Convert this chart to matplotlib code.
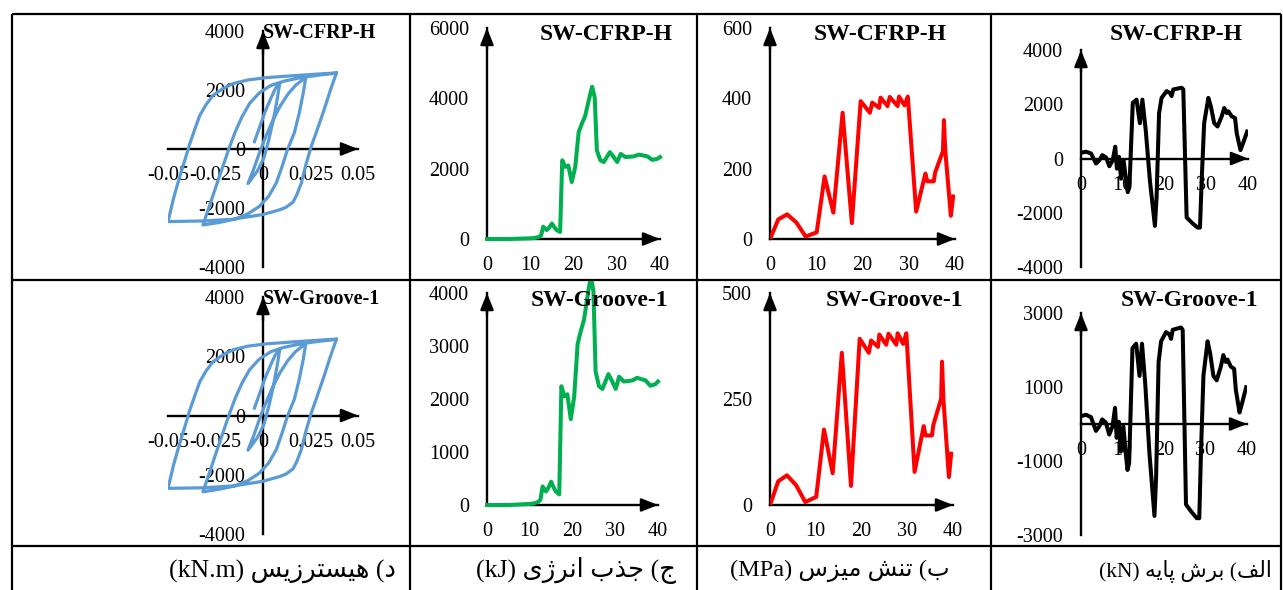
import matplotlib
matplotlib.use("Agg")
import matplotlib.pyplot as plt
from matplotlib.transforms import Bbox, TransformedBbox

plt.rcParams['font.family'] = ['Liberation Serif', 'DejaVu Sans']

# ---------------- data ----------------
# hysteresis: drift ratio vs. moment (kN.m)
drift = [
    -0.0045, -0.002, 0.001, 0.004, 0.0065, 0.0088,
    0.0075, 0.0055, 0.003, 0.0005, -0.003, -0.0079,
    -0.005, -0.002, 0.001, 0.005, 0.009, 0.013, 0.017, 0.0205, 0.0225,
    0.0212, 0.019, 0.0165, 0.013, 0.010, 0.007, 0.003, -0.002, -0.008, -0.015, -0.023, -0.0316,
    -0.0285, -0.025, -0.0215, -0.018, -0.0145, -0.011, -0.007, -0.002, 0.004, 0.011, 0.02, 0.03, 0.0386,
    0.0355, 0.032, 0.0285, 0.0252, 0.0225, 0.0202, 0.0178, 0.0158, 0.012, 0.0088, 0.0, -0.0158, -0.0316, -0.05,
    -0.047, -0.0439, -0.041, -0.0386, -0.036, -0.0333, -0.030, -0.0263, -0.021, -0.0158, -0.008, 0.0018, 0.0193, 0.0386,
]
moment = [
    250, 700, 1250, 1700, 2050, 2230,
    1700, 1000, 300, -300, -750, -1170,
    -700, -150, 350, 950, 1450, 1850, 2150, 2330, 2430,
    1900, 1200, 550, 0, -600, -1150, -1600, -1950, -2200, -2380, -2490, -2575,
    -1990, -1320, -660, 0, 600, 1100, 1550, 1900, 2150, 2300, 2420, 2510, 2570,
    2000, 1300, 650, 50, -550, -1150, -1550, -1800, -1980, -2060, -2220, -2380, -2440, -2460,
    -1650, -950, -350, 170, 650, 1136, 1500, 1818, 2050, 2216, 2340, 2420, 2500, 2580,
]

# energy absorption (kJ)
energy_t = [0, 5, 10, 11, 12, 12.5, 13.0, 13.8, 14.4, 15.0, 15.6, 16.1, 16.9, 17.4, 18.1,
            18.8, 19.6, 20.4, 21.2, 21.9, 22.7, 23.5, 24.3, 24.9, 25.4, 26.2, 27.0, 28.4,
            29.3, 30.1, 30.9, 32.0, 34.0, 35.1, 37.1, 38.2, 39.4, 40.0]
energy = [0, 0, 20, 30, 60, 100, 350, 255, 330, 440, 330, 255, 200, 2240, 2050,
          2090, 1620, 2050, 3040, 3270, 3500, 3930, 4330, 4030, 2520, 2240, 2190, 2470,
          2330, 2190, 2420, 2330, 2350, 2400, 2350, 2250, 2280, 2330]

# von Mises stress (MPa)
stress_t = [0, 1.8, 3.7, 5.7, 7.7, 10.1, 11.8, 13.7, 15.7, 17.7, 19.6, 21.6, 22.1, 23.6,
            23.9, 25.4, 25.9, 27.6, 27.9, 29.1, 29.8, 31.6, 33.6, 34.0, 35.4, 35.7, 37.4,
            37.6, 37.9, 39.1, 39.6]
stress = [0, 56, 70, 47, 7, 19, 178, 75, 359, 45, 392, 359, 388, 373,
          402, 378, 404, 378, 405, 380, 405, 78, 186, 164, 164, 189, 250,
          338, 250, 66, 121]

# base shear (kN)
shear_t = [0, 1.2, 2.4, 2.8, 3.6, 4.4, 5.1, 6.0, 6.8, 7.6, 8.2, 8.6, 9.1, 9.6, 10.2,
           10.8, 11.2, 11.6, 12.4, 13.3, 14.1, 14.7, 15.5, 16.5, 17.7, 18.1, 18.7, 19.3,
           20.5, 21.3, 21.7, 22.1, 24.1, 24.5, 24.9, 25.3, 26.5, 27.9, 28.5, 28.9, 29.5,
           30.5, 31.1, 31.9, 32.7, 33.7, 34.3, 34.9, 35.3, 36.1, 36.9, 37.3, 38.2, 38.8, 39.8]
shear = [211, 250, 186, 62, -186, -62, 124, 37, -286, -62, 435, -373, 62, -745, -62,
         -807, -1242, -1056, 2050, 2170, 1300, 2170, 1055, -807, -2484, -1430, 1677, 2235,
         2484, 2420, 2300, 2546, 2608, 2546, 186, -2173, -2360, -2546, -2546, -807, 1304,
         2235, 1925, 1304, 1180, 1553, 1863, 1677, 1739, 1553, 1490, 931, 310, 559, 993]

specimens = ['SW-CFRP-H', 'SW-Groove-1']

# ---------------- Persian caption shaping ----------------
FORMS = {  # isolated, final, initial, medial
    'ا': ('\uFE8D', '\uFE8E', None, None),
    'ب': ('\uFE8F', '\uFE90', '\uFE91', '\uFE92'),
    'پ': ('\uFB56', '\uFB57', '\uFB58', '\uFB59'),
    'ت': ('\uFE95', '\uFE96', '\uFE97', '\uFE98'),
    'ج': ('\uFE9D', '\uFE9E', '\uFE9F', '\uFEA0'),
    'د': ('\uFEA9', '\uFEAA', None, None),
    'ذ': ('\uFEAB', '\uFEAC', None, None),
    'ر': ('\uFEAD', '\uFEAE', None, None),
    'ز': ('\uFEAF', '\uFEB0', None, None),
    'ژ': ('\uFB8A', '\uFB8B', None, None),
    'س': ('\uFEB1', '\uFEB2', '\uFEB3', '\uFEB4'),
    'ش': ('\uFEB5', '\uFEB6', '\uFEB7', '\uFEB8'),
    'ف': ('\uFED1', '\uFED2', '\uFED3', '\uFED4'),
    'ل': ('\uFEDD', '\uFEDE', '\uFEDF', '\uFEE0'),
    'م': ('\uFEE1', '\uFEE2', '\uFEE3', '\uFEE4'),
    'ن': ('\uFEE5', '\uFEE6', '\uFEE7', '\uFEE8'),
    'ه': ('\uFEE9', '\uFEEA', '\uFEEB', '\uFEEC'),
    'ی': ('\uFBFC', '\uFBFD', '\uFBFE', '\uFBFF'),
}


def shape(word):
    """Contextual forms of a Persian word, in left-to-right visual order."""
    out = []
    n = len(word)
    for i, ch in enumerate(word):
        f = FORMS[ch]
        prev_joins = i > 0 and FORMS[word[i - 1]][2] is not None
        next_joins = i < n - 1 and f[2] is not None
        if prev_joins and next_joins:
            g = f[3]
        elif prev_joins:
            g = f[1]
        elif next_joins:
            g = f[2]
        else:
            g = f[0]
        out.append(g)
    return ''.join(reversed(out))


def rtl_caption(label, words, unit):
    # label) word1 word2 (unit)  -> laid out right to left
    parts = [shape(w) for w in reversed(words)]
    return '(' + unit + ') ' + ' '.join(parts) + ' (' + shape(label)


captions = [
    rtl_caption('د', ['هیسترزیس'], 'kN.m'),
    rtl_caption('ج', ['جذب', 'انرژی'], 'kJ'),
    rtl_caption('ب', ['تنش', 'میزس'], 'MPa'),
    rtl_caption('الف', ['برش', 'پایه'], 'kN'),
]

# ---------------- figure ----------------
W, H = 1283, 590
fig = plt.figure(figsize=(W / 100, H / 100), dpi=100)

bg = fig.add_axes([0, 0, 1, 1], zorder=0)
bg.set_xlim(0, W)
bg.set_ylim(H, 0)
bg.axis('off')

# table grid
grid_kw = dict(color='black', lw=1.6, solid_capstyle='butt')
bg.plot([12, 1281], [14, 14], **grid_kw)
for y in (280, 546):
    bg.plot([12, 1281], [y, y], **grid_kw)
for x in (12, 410, 697, 991, 1281):
    bg.plot([x, x], [14, 590], **grid_kw)

# captions
cap_right = [396, 676, 950, 1272]
cap_size = [18.5, 18.5, 17.5, 15.5]
for txt, xr, fs in zip(captions, cap_right, cap_size):
    bg.text(xr, 571, txt, ha='right', va='center', fontsize=fs,
            family=['Liberation Serif', 'DejaVu Sans'])

TICK_FS = 14.5


def panel(x0, x1, y_top, y_bot, xlim, ylim, xticks, xlabels, yticks, ylabels):
    ax = fig.add_axes([x0 / W, 1 - y_bot / H, (x1 - x0) / W, (y_bot - y_top) / H], zorder=2)
    ax.set_xlim(*xlim)
    ax.set_ylim(*ylim)
    ax.patch.set_visible(False)
    for s in ('top', 'right'):
        ax.spines[s].set_visible(False)
    for s in ('left', 'bottom'):
        ax.spines[s].set_position(('data', 0))
        ax.spines[s].set_linewidth(1.7)
        ax.spines[s].set_color('black')
    ax.set_xticks(xticks, xlabels)
    ax.set_yticks(yticks, ylabels)
    ax.tick_params(length=0, labelsize=TICK_FS, colors='black')
    ax.tick_params(axis='x', pad=12.5)
    ax.tick_params(axis='y', pad=13)
    head = dict(arrowstyle='-|>,head_length=0.5,head_width=0.2', color='black',
                lw=1.7, mutation_scale=20, shrinkA=0, shrinkB=0)
    ax.annotate('', xy=(1.0, 0), xytext=(0.9, 0), xycoords=ax.get_yaxis_transform(),
                textcoords=ax.get_yaxis_transform(), arrowprops=head, annotation_clip=False)
    ax.annotate('', xy=(0, 1.0), xytext=(0, 0.9), xycoords=ax.get_xaxis_transform(),
                textcoords=ax.get_xaxis_transform(), arrowprops=head, annotation_clip=False)
    return ax


def cell_clip(x0, y0, x1, y1):
    return TransformedBbox(Bbox.from_extents(x0 / W, 1 - y1 / H, x1 / W, 1 - y0 / H),
                           fig.transFigure)


hx_ticks = [-0.05, -0.025, 0, 0.025, 0.05]
hx_labels = ['-0.05', '-0.025', '0', '0.025', '0.05']
hy_ticks = [-4000, -2000, 0, 2000, 4000]
hy_labels = ['-4000', '-2000', '0', '2000', '4000']
t_ticks = [0, 10, 20, 30, 40]
t_labels = ['0', '10', '20', '30', '40']

rows = [(31, 267, 28, 239, 50, 267), (297, 534, 293, 505, 313, 535)]
cells_y = [(15, 279), (281, 545)]

for r, (hy0, hy1, ey0, ey1, sy0, sy1) in enumerate(rows):
    cy0, cy1 = cells_y[r]

    # hysteresis
    ax = panel(168, 358, hy0, hy1, (-0.05, 0.05), (-4000, 4000),
               hx_ticks, hx_labels, hy_ticks, hy_labels)
    ax.plot(drift, moment, color='#5B9BD5', lw=2.3, solid_joinstyle='round', zorder=3)
    ax.text(0.5, 1.0 - (2 / (hy1 - hy0)), specimens[r], transform=ax.transAxes,
            ha='left', va='center', fontsize=14.5, fontweight='bold')

    # energy absorption
    if r == 0:
        ax = panel(487, 660, ey0, ey1, (0, 40), (0, 6000), t_ticks, t_labels,
                   [0, 2000, 4000, 6000], ['0', '2000', '4000', '6000'])
    else:
        ax = panel(487, 658, ey0, ey1, (0, 40), (0, 4000), t_ticks, t_labels,
                   [0, 1000, 2000, 3000, 4000], ['0', '1000', '2000', '3000', '4000'])
    ln, = ax.plot(energy_t, energy, color='#00B050', lw=2.9, solid_joinstyle='round', zorder=3)
    ln.set_clip_box(cell_clip(410, cy0, 697, cy1))
    tx = 606 if r == 0 else 600
    ty = 35 if r == 0 else 300
    fig.text(tx / W, 1 - ty / H, specimens[r], ha='center', va='center',
             fontsize=17, fontweight='bold', zorder=5)

    # von Mises stress
    if r == 0:
        ax = panel(770, 955, ey0, ey1, (0, 40), (0, 600), t_ticks, t_labels,
                   [0, 200, 400, 600], ['0', '200', '400', '600'])
    else:
        ax = panel(770, 953, ey0, ey1, (0, 40), (0, 500), t_ticks, t_labels,
                   [0, 250, 500], ['0', '250', '500'])
    ax.plot(stress_t, stress, color='#FF0000', lw=2.9, solid_joinstyle='round', zorder=3)
    tx = 880 if r == 0 else 895
    ty = 34 if r == 0 else 300
    fig.text(tx / W, 1 - ty / H, specimens[r], ha='center', va='center',
             fontsize=17, fontweight='bold', zorder=5)

    # base shear
    if r == 0:
        ax = panel(1081, 1248, sy0, sy1, (0, 40), (-4000, 4000), t_ticks, t_labels,
                   hy_ticks, hy_labels)
    else:
        ax = panel(1081, 1247, sy0, sy1, (0, 40), (-3000, 3000), t_ticks, t_labels,
                   [-3000, -1000, 1000, 3000], ['-3000', '-1000', '1000', '3000'])
    ax.plot(shear_t, shear, color='black', lw=2.9, solid_joinstyle='round', zorder=3)
    tx = 1176 if r == 0 else 1189
    ty = 34 if r == 0 else 300
    fig.text(tx / W, 1 - ty / H, specimens[r], ha='center', va='center',
             fontsize=17, fontweight='bold', zorder=5)

fig.savefig('out.png', dpi=100)
